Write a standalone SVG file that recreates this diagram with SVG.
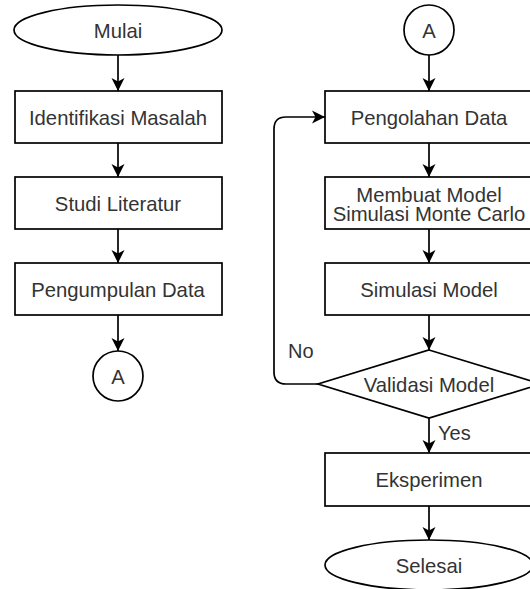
<svg xmlns="http://www.w3.org/2000/svg" width="530" height="589" viewBox="0 0 530 589">
<style>
.shape{fill:#fff;stroke:#000;stroke-width:1.7}
.lbl{font-family:"Liberation Sans",Arial,sans-serif;font-size:20.3px;fill:#333;text-anchor:middle}
.edge{fill:none;stroke:#000;stroke-width:1.7}
.elbl{font-family:"Liberation Sans",Arial,sans-serif;font-size:20px;fill:#333}
</style>
<defs>
<marker id="arr" markerUnits="userSpaceOnUse" markerWidth="14" markerHeight="14" viewBox="0 0 14 14" refX="13" refY="7" orient="auto">
<path d="M0,0.5 L13,7 L0,13.5 L3.5,7 Z" fill="#000"/>
</marker>
</defs>
<rect width="530" height="589" fill="#fff"/>
<g id="connectors">
<line class="edge" x1="118" y1="55" x2="118" y2="91" marker-end="url(#arr)"/>
<line class="edge" x1="118" y1="143" x2="118" y2="177" marker-end="url(#arr)"/>
<line class="edge" x1="118" y1="229" x2="118" y2="263" marker-end="url(#arr)"/>
<line class="edge" x1="118" y1="315" x2="118" y2="351" marker-end="url(#arr)"/>
<line class="edge" x1="429" y1="55" x2="429" y2="91" marker-end="url(#arr)"/>
<line class="edge" x1="429" y1="143" x2="429" y2="177" marker-end="url(#arr)"/>
<line class="edge" x1="429" y1="229" x2="429" y2="263" marker-end="url(#arr)"/>
<line class="edge" x1="429" y1="315" x2="429" y2="350" marker-end="url(#arr)"/>
<line class="edge" x1="429" y1="418" x2="429" y2="453" marker-end="url(#arr)"/>
<line class="edge" x1="429" y1="506" x2="429" y2="540" marker-end="url(#arr)"/>
<path class="edge" d="M318,384 L286,384 Q274,384 274,372 L274,129 Q274,117 286,117 L325,117" marker-end="url(#arr)"/>
<text class="elbl" x="288" y="358">No</text>
<text class="elbl" x="438" y="440">Yes</text>
</g>
<g id="mulai">
<ellipse class="shape" cx="118" cy="30" rx="104" ry="25"/>
<text class="lbl" x="118" y="37.5">Mulai</text>
</g>
<g id="identifikasi">
<rect class="shape" x="15" y="91" width="207" height="52"/>
<text class="lbl" x="118" y="124.5">Identifikasi Masalah</text>
</g>
<g id="studi">
<rect class="shape" x="15" y="177" width="207" height="52"/>
<text class="lbl" x="118" y="210.5">Studi Literatur</text>
</g>
<g id="pengumpulan">
<rect class="shape" x="15" y="263" width="207" height="52"/>
<text class="lbl" x="118" y="296.5">Pengumpulan Data</text>
</g>
<g id="connectorA1">
<circle class="shape" cx="118" cy="376" r="25"/>
<text class="lbl" x="118" y="383.5">A</text>
</g>
<g id="connectorA2">
<circle class="shape" cx="429" cy="30" r="25"/>
<text class="lbl" x="429" y="37.5">A</text>
</g>
<g id="pengolahan">
<rect class="shape" x="325" y="91" width="208" height="52"/>
<text class="lbl" x="429" y="124.5">Pengolahan Data</text>
</g>
<g id="membuat">
<rect class="shape" x="325" y="177" width="208" height="52"/>
<text class="lbl" x="429" y="202"><tspan x="429" y="202">Membuat Model</tspan><tspan x="429" y="220.5">Simulasi Monte Carlo</tspan></text>
</g>
<g id="simulasi">
<rect class="shape" x="325" y="263" width="208" height="52"/>
<text class="lbl" x="429" y="296.5">Simulasi Model</text>
</g>
<g id="validasi">
<polygon class="shape" points="429,350 541,384 429,418 318,384"/>
<text class="lbl" x="429" y="391.5">Validasi Model</text>
</g>
<g id="eksperimen">
<rect class="shape" x="325" y="453" width="208" height="53"/>
<text class="lbl" x="429" y="487">Eksperimen</text>
</g>
<g id="selesai">
<ellipse class="shape" cx="429" cy="565" rx="104" ry="25"/>
<text class="lbl" x="429" y="572.5">Selesai</text>
</g>
</svg>
